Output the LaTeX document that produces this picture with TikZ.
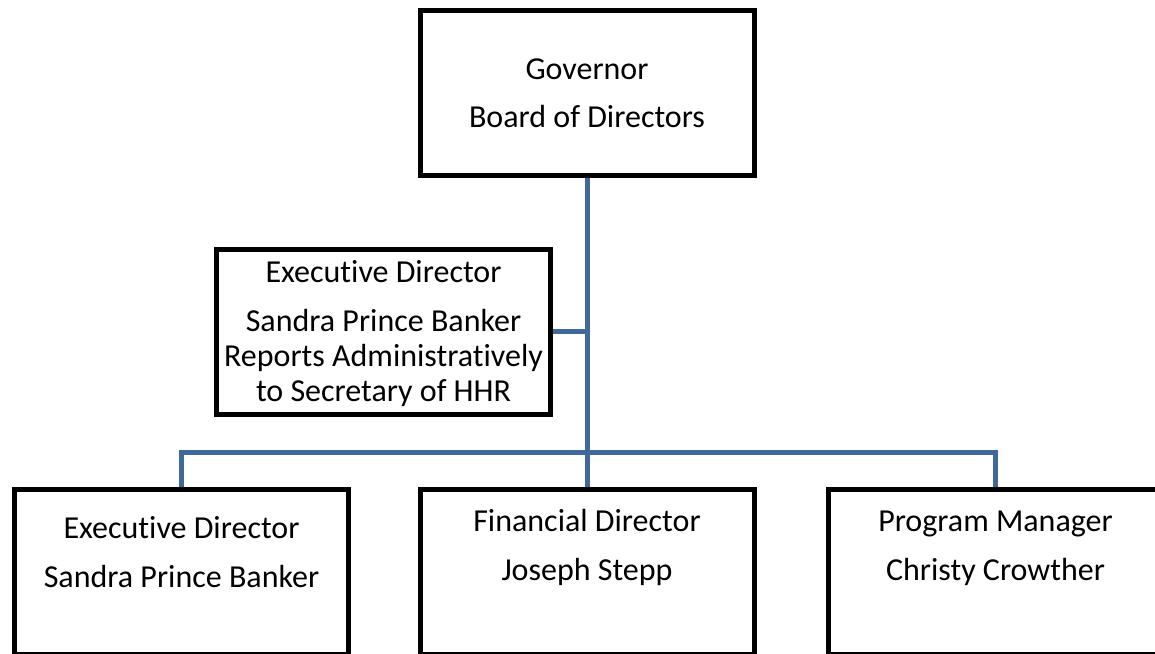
\documentclass[tikz,border=0pt]{standalone}
\usepackage{fontspec}
\setmainfont{Carlito}[Ligatures=NoCommon]
\usetikzlibrary{positioning}
\definecolor{connblue}{RGB}{64,104,156}
\tikzset{
	orgbox/.style={draw=black, line width=5pt, fill=white, minimum width=334pt, minimum height=165pt, inner sep=0pt, align=center},
	orgtext/.style={align=center, inner sep=0pt},
	conn/.style={draw=connblue, line width=5pt}
}

\begin{document}
\begin{tikzpicture}[x=1pt, y=-1pt, font=\fontsize{32}{35}\selectfont]
		%%%%% START %%%%%
		
		\useasboundingbox (0, 0) rectangle (1155, 653);
		\clip (0, 0) rectangle (1155, 653);
		
		% connectors first, boxes on top
		\coordinate (bus) at (587, 452);
		
		\node[orgbox] (gov) at (587, 93) {Governor\\[13pt]Board of Directors};
		\node[orgbox] (exec) at (383.5, 331.5) {};
		
		\node[orgbox] (execdir) at (181.5, 572) {};
		\node[orgbox] (findir) at (587, 572) {};
		\node[orgbox] (progmgr) at (995.5, 572) {};
		
		\draw[conn] (gov.south) -- (findir.north);
		\draw[conn] (exec.east) -- (exec.east -| gov.south);
		\draw[conn] (execdir.north) |- (bus) -| (progmgr.north);
		
		\node[orgtext] (exectxt) at (383.5, 333.5) {Executive Director\\[14pt]Sandra Prince Banker\\Reports Administratively\\to Secretary of HHR};
		\node[orgtext, below=29pt of execdir.north] (execdirtxt) {Executive Director\\[14pt]Sandra Prince Banker};
		\node[orgtext, below=22pt of findir.north] (findirtxt) {Financial Director\\[14pt]Joseph Stepp};
		\node[orgtext, below=24pt of progmgr.north] (progmgrtxt) {Program Manager\\[14pt]Christy Crowther};
		
		%%%%% END %%%%%
	\end{tikzpicture}
\end{document}
